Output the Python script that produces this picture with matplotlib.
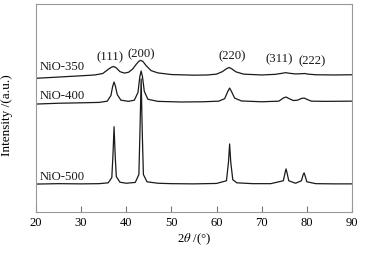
import matplotlib
matplotlib.use('Agg')
import matplotlib.pyplot as plt

plt.rcParams['font.family'] = ['Liberation Serif', 'DejaVu Serif']
plt.rcParams['mathtext.fontset'] = 'stix'

# NiO-500 (sharp peaks)
x500 = [20, 25, 30, 34, 36, 36.8, 37.05, 37.3, 37.55, 37.8, 38.6, 40, 42, 42.8, 43.05, 43.3,
        43.55, 43.8, 44.6, 47, 50, 55, 60, 62.2, 62.65, 62.9, 63.15, 63.6, 64.5, 68, 72, 74.8,
        75.2, 75.4, 75.6, 76.0, 77.5, 78.8, 79.2, 79.4, 79.6, 80.0, 82, 86, 90]
y500 = [13.4, 13.6, 13.5, 13.6, 14.0, 16.5, 27, 41, 27, 17, 14.3, 13.8, 14.2, 18, 40, 64,
        38, 18, 14.5, 13.8, 13.6, 13.5, 13.7, 15, 24, 32.7, 24, 15.5, 14, 13.6, 13.6, 15,
        19, 20.7, 19, 15, 13.8, 15, 18, 18.8, 17.5, 14.5, 13.6, 13.5, 13.5]

# NiO-400
x400 = [20, 25, 30, 34, 35.8, 36.6, 37.0, 37.3, 37.6, 38.0, 38.8, 40.5, 41.8, 42.6, 43.0, 43.3,
        43.6, 44.0, 44.8, 47, 52, 57, 60.5, 61.8, 62.5, 62.9, 63.3, 64.0, 65.5, 70, 73.8, 74.8,
        75.4, 76.0, 77.0, 78.0, 78.8, 79.4, 80.0, 81.0, 84, 90]
y400 = [51.9, 52.3, 52.5, 52.7, 53.3, 56, 60.5, 62.5, 60.5, 56.5, 53.8, 53.2, 53.8, 57.5, 65, 67.8,
        65, 58, 54.2, 53.2, 52.9, 53.0, 53.3, 54.5, 58, 59.6, 58, 54.8, 53.4, 53.0, 53.3, 54.8,
        55.3, 54.6, 53.6, 53.8, 54.6, 54.8, 54.2, 53.3, 53.2, 53.3]

# NiO-350 (broad peaks)
x350 = [20, 25, 30, 33, 34.8, 36.0, 36.7, 37.2, 37.8, 38.6, 39.6, 40.5, 41.4, 42.2, 42.8, 43.2,
        43.7, 44.4, 45.5, 47, 50, 55, 58, 60, 61.3, 62.2, 62.8, 63.4, 64.3, 66, 70, 73, 74.5,
        75.3, 76.2, 77.5, 78.8, 79.5, 80.3, 82, 86, 90]
y350 = [64.3, 64.9, 65.5, 65.9, 66.6, 68.6, 69.6, 70.0, 69.3, 67.5, 66.8, 67.2, 68.7, 71.0, 72.5, 72.9,
        72.4, 70.4, 68.0, 66.9, 66.1, 65.8, 65.9, 66.3, 67.5, 68.9, 69.5, 68.8, 67.4, 66.3, 65.9, 66.2, 66.7,
        67.0, 66.7, 66.4, 66.5, 66.6, 66.3, 66.0, 65.9, 66.0]

samples = ['NiO-350', 'NiO-400', 'NiO-500']
sample_pos = [(20.9, 68.7), (20.9, 54.6), (20.9, 15.9)]
hkl = ['(111)', '(200)', '(220)', '(311)', '(222)']
hkl_pos = [(36.4, 72.1), (43.4, 73.6), (63.4, 72.6), (73.8, 71.2), (81.1, 70.2)]

fig = plt.figure(figsize=(3.67, 2.55), dpi=100)
ax = fig.add_axes([0.098, 0.165, 0.861, 0.815])

for xs, ys in [(x350, y350), (x400, y400), (x500, y500)]:
    ax.plot(xs, ys, color='#1a1a1a', linewidth=0.9)

for name, (tx, ty) in zip(samples, sample_pos):
    ax.text(tx, ty, name, fontsize=9.2, ha='left', va='baseline', color='#1a1a1a')
for name, (tx, ty) in zip(hkl, hkl_pos):
    ax.text(tx, ty, name, fontsize=9.2, ha='center', va='bottom', color='#1a1a1a')

ax.set_xlim(20, 90)
ax.set_ylim(0, 100)
ax.set_xticks(range(20, 91, 10))
ax.set_yticks([])
ax.tick_params(axis='x', direction='in', length=4, width=0.8, color='#777777',
               labelsize=9, pad=3)
for sp in ax.spines.values():
    sp.set_color('#999999')
    sp.set_linewidth(0.8)

ax.set_xlabel(r'2$\mathit{\theta}$ /(°)', fontsize=9.2, labelpad=2)
ax.set_ylabel('Intensity /(a.u.)', fontsize=9.5, labelpad=11)
ax.yaxis.set_label_coords(-0.072, 0.47)

fig.savefig('out.png', dpi=100)
